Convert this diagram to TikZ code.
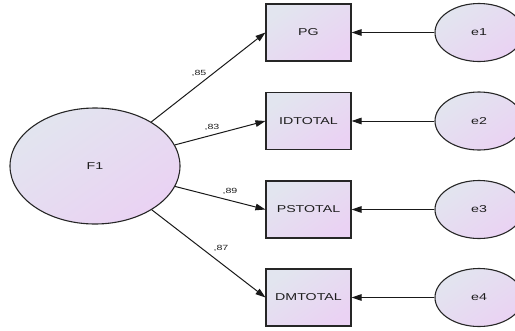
\documentclass[tikz,border=0pt]{standalone}
\usepackage{fontspec}
\setmainfont{Liberation Sans}[FakeStretch=1.42]
\usetikzlibrary{arrows.meta,shapes.geometric}
\definecolor{fillA}{HTML}{E2E5EF}
\definecolor{fillB}{HTML}{EAD2F3}
\definecolor{txt}{HTML}{1E1E1E}
\tikzset{
  x=1pt, y=-1pt,
  shadefill/.style={top color=fillA, bottom color=fillB, shading angle=35},
  latent/.style={ellipse, draw=black!85, line width=1.1pt, shadefill,
    minimum width=170pt, minimum height=116pt, inner sep=0pt,
    font=\fontsize{10}{12}\selectfont, text=txt},
  errvar/.style={ellipse, draw=black!85, line width=1.1pt, shadefill,
    minimum width=88pt, minimum height=58pt, inner sep=0pt,
    font=\fontsize{10}{12}\selectfont, text=txt},
  observed/.style={rectangle, draw=black!85, line width=1.1pt, shadefill,
    minimum width=85pt, minimum height=57pt, inner sep=0pt,
    font=\fontsize{10}{12}\selectfont, text=txt},
  path/.style={line width=1pt, draw=black!90,
    -{Triangle[length=10pt,width=6.5pt]}},
  coef/.style={font=\fontsize{7.5}{9}\selectfont, text=txt, inner sep=0pt}
}
\begin{document}
\begin{tikzpicture}
\useasboundingbox (0,0) rectangle (515,330);
\clip (0,0) rectangle (515,330);

% latent factor
\node[latent] (F1) at (95,166) {F1};

% observed indicators
\node[observed] (PG) at (308.5,32.5) {PG};
\node[observed] (ID) at (308.5,121) {IDTOTAL};
\node[observed] (PS) at (308.5,209.5) {PSTOTAL};
\node[observed] (DM) at (308.5,297.5) {DMTOTAL};

% error terms
\node[errvar] (e1) at (479,32.5) {e1};
\node[errvar] (e2) at (479,121) {e2};
\node[errvar] (e3) at (479,209.5) {e3};
\node[errvar] (e4) at (479,297.5) {e4};

% factor loadings
\draw[path] (F1) -- (PG.west);
\draw[path] (F1) -- (ID.west);
\draw[path] (F1) -- (PS.west);
\draw[path] (F1) -- (DM.west);

% error paths
\draw[path] (e1) -- (PG);
\draw[path] (e2) -- (ID);
\draw[path] (e3) -- (PS);
\draw[path] (e4) -- (DM);

% standardized coefficients
\node[coef] (c1) at (199,73) {,85};
\node[coef] (c2) at (212,127) {,83};
\node[coef] (c3) at (230,191) {,89};
\node[coef] (c4) at (221,248) {,87};
\end{tikzpicture}
\end{document}
